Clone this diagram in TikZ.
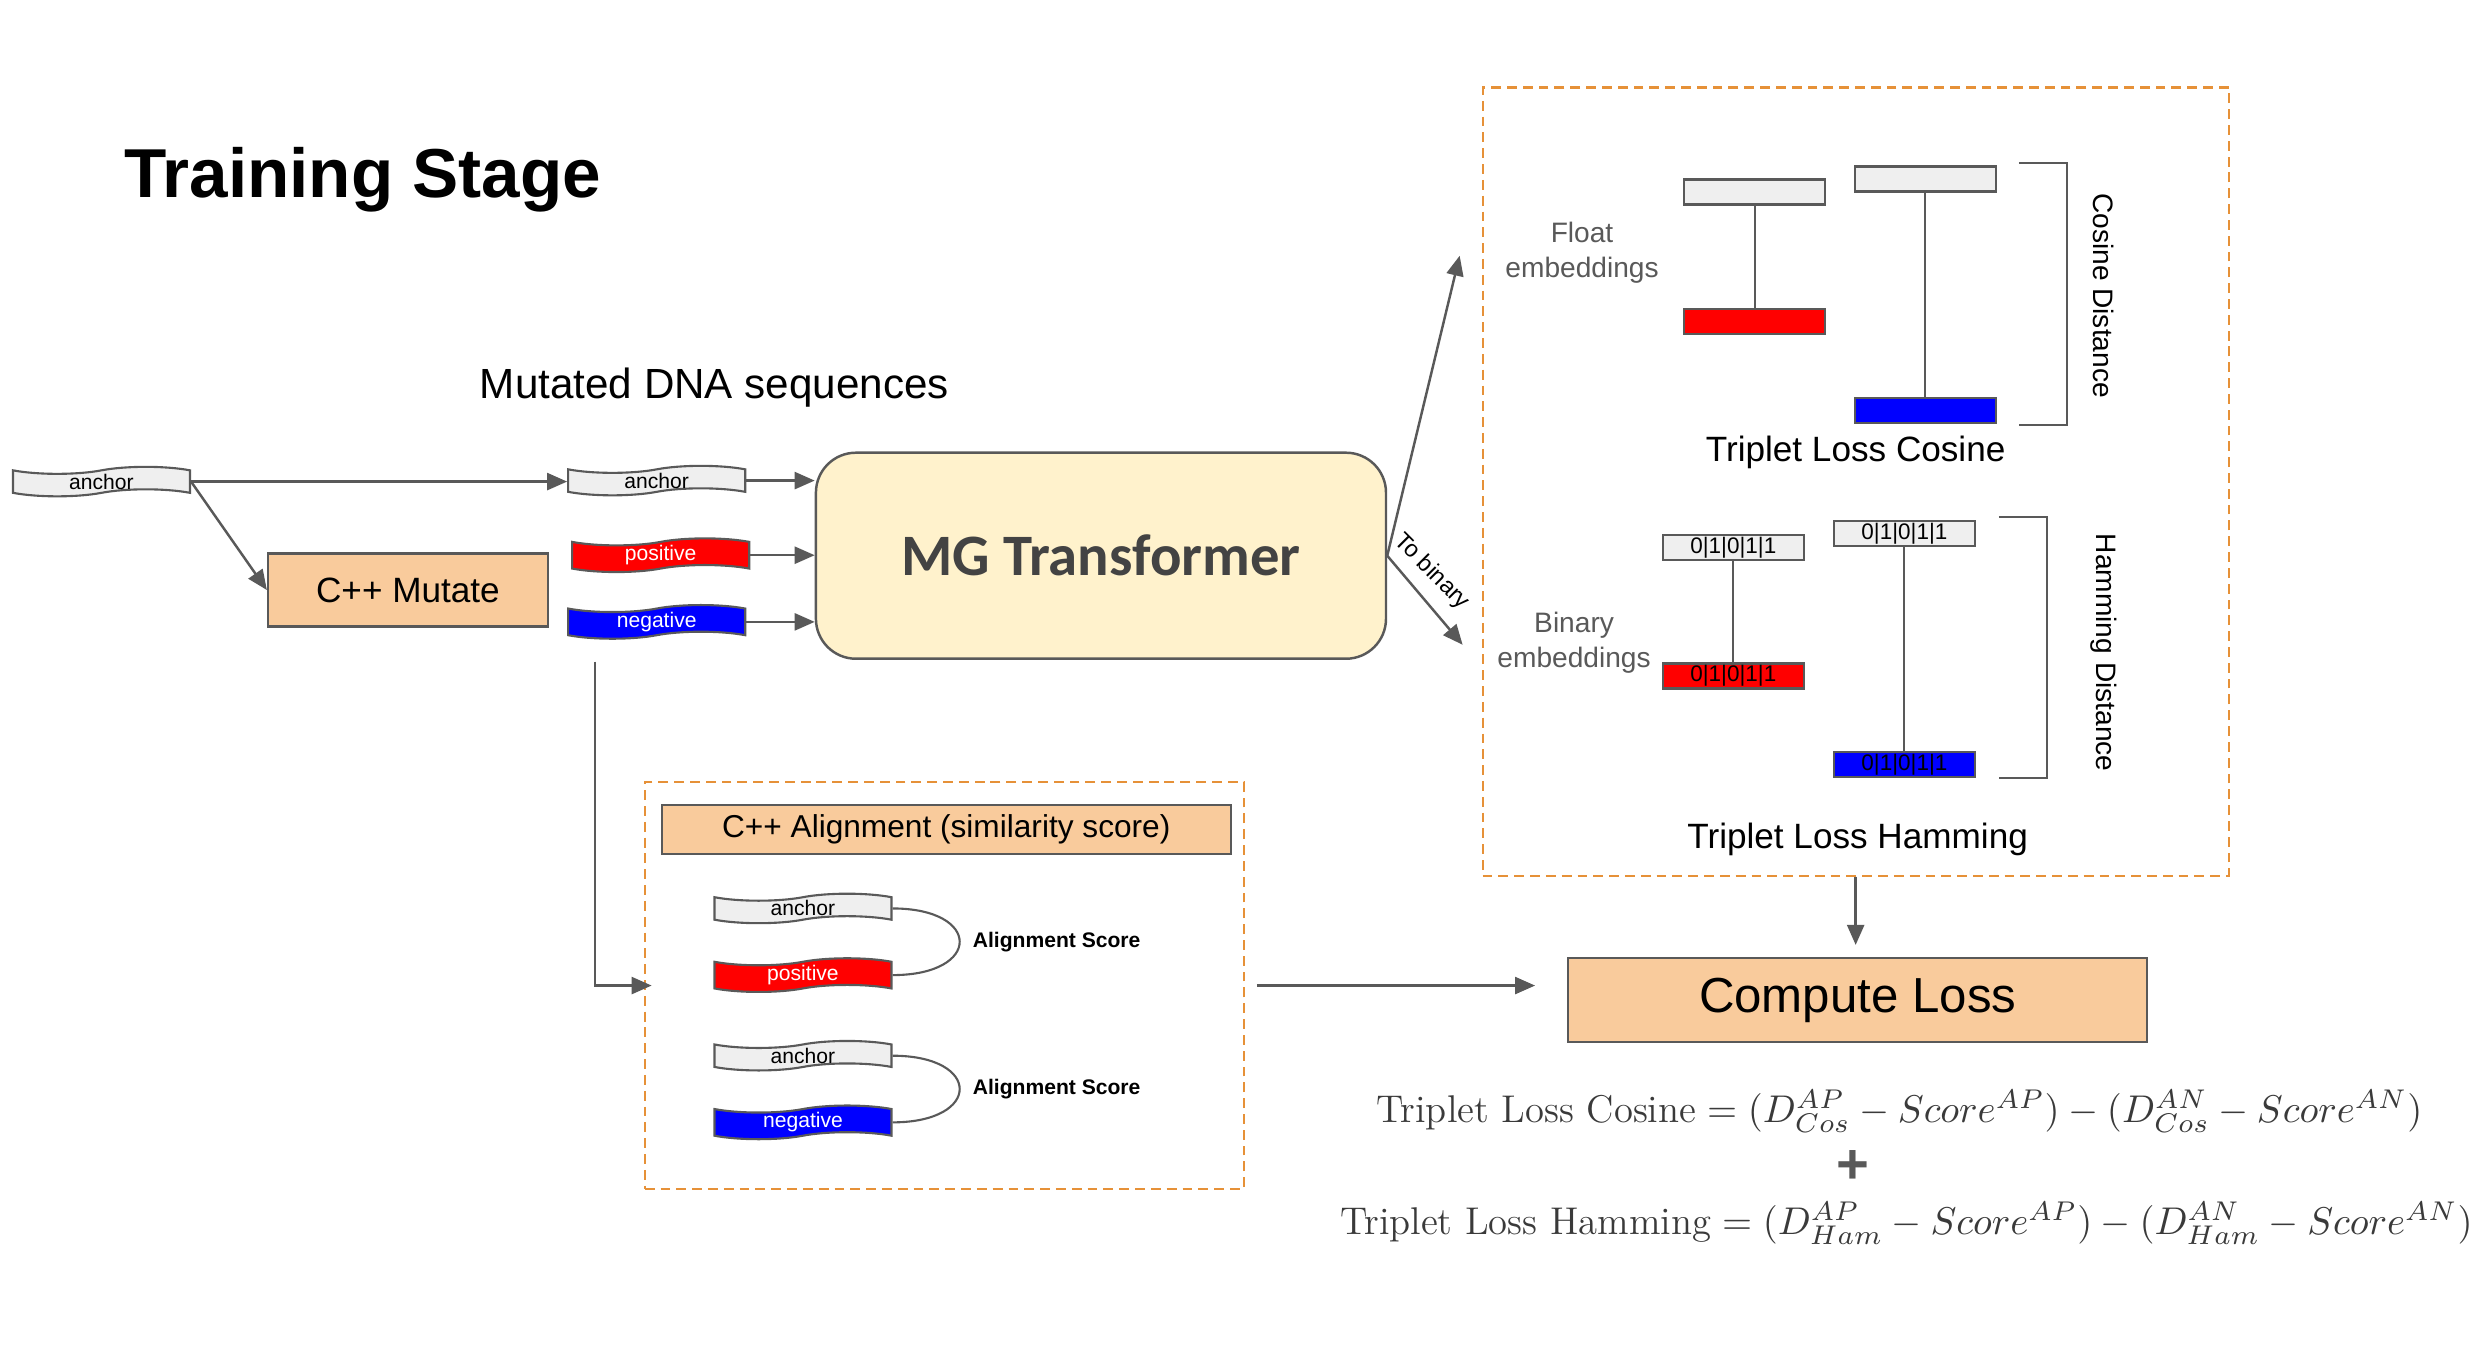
\RequirePackage{fix-cm}
\documentclass[tikz,border=0pt]{standalone}
\usepackage{fontspec}
\setsansfont{Liberation Sans}
\newfontfamily\calibri{Carlito}
\usetikzlibrary{shapes.symbols,arrows.meta,calc}
\definecolor{lg}{HTML}{595959}
\definecolor{og}{HTML}{E69138}
\definecolor{lorange}{HTML}{F9CB9C}
\definecolor{lyellow}{HTML}{FFF2CC}
\definecolor{fgray}{HTML}{EFEFEF}
\definecolor{pred}{HTML}{FF0000}
\definecolor{pblue}{HTML}{0000FF}
\definecolor{mgtext}{HTML}{434343}
\definecolor{formgray}{HTML}{3A3A3A}
\newcommand\fsz[2]{\fontsize{#1}{#2}\selectfont}
\tikzset{
  flag/.style={tape, draw=lg, line width=0.6pt, minimum width=1.77cm, minimum height=0.29cm,
    inner sep=0pt, tape bend height=0.07cm, font=\sffamily\fsz{6}{7}},
  embbox/.style={rectangle, draw=lg, line width=0.65pt, minimum width=1.41cm, minimum height=0.25cm,
    inner sep=0pt, font=\sffamily\fsz{6.4}{7}},
  orbox/.style={rectangle, draw=lg, line width=0.6pt, fill=lorange, inner sep=0pt},
  dbox/.style={rectangle, draw=og, line width=0.6pt, dash pattern=on 2.8pt off 1.7pt, inner sep=0pt},
  arr/.style={draw=lg, line width=0.7pt, -{Triangle[length=0.2cm,width=0.17cm]}},
  conn/.style={draw=lg, line width=0.6pt},
  lbl/.style={inner sep=0pt, font=\sffamily\fsz{10}{12}},
  emblbl/.style={inner sep=0pt, align=center, text=lg, font=\sffamily\fsz{8}{10}},
  distlbl/.style={inner sep=0pt, rotate=-90, font=\sffamily\fsz{8}{10}},
  scorelbl/.style={inner sep=0pt, anchor=west, font=\sffamily\bfseries\fsz{6}{7}},
  formula/.style={inner sep=0pt, text=formgray, font=\rmfamily\fsz{11}{13}}
}
\begin{document}
\begin{tikzpicture}[x=0.00995cm,y=-0.00995cm]
\useasboundingbox (0,0) rectangle (2495.5,1351.8);

% titles
\node[anchor=base west, inner sep=0pt, font=\sffamily\bfseries\fsz{19.7}{24}] (title) at (124,198) {Training Stage};
\node[anchor=base, inner sep=0pt, font=\sffamily\fsz{12}{14}] (mutlbl) at (718,400) {Mutated DNA sequences};

% input sequences
\node[flag, fill=fgray] (a1) at (102,484) {anchor};
\node[flag, fill=fgray] (a2) at (660,483) {anchor};
\node[flag, fill=pred, text=white] (p1) at (664,558) {positive};
\node[flag, fill=pblue, text=white] (n1) at (660,625) {negative};
\node[orbox, minimum width=2.8cm, minimum height=0.73cm, font=\sffamily\fsz{10}{12}] (mutate) at (410,593) {C++ Mutate};
\node[draw=lg, line width=0.7pt, fill=lyellow, rounded corners=0.4cm, minimum width=5.7cm,
  minimum height=2.06cm, text=mgtext, font=\calibri\bfseries\fsz{16.7}{20}] (mg) at (1106.5,558.5) {MG Transformer};

\draw[arr] (a1.east) -- (a1.east -| a2.west);
\draw[arr] (a1.east) -- (mutate.west);
\draw[arr] (a2.east) -- (a2.east -| mg.west);
\draw[arr] (p1.east) -- (p1.east -| mg.west);
\draw[arr] (n1.east) -- (n1.east -| mg.west);

% outputs of transformer
\coordinate (upt) at (1467,257);
\coordinate (dnt) at (1470,648);
\draw[arr] (mg.east) -- (upt);
\draw[arr] (mg.east) -- (dnt);
\node[rotate=-45, inner sep=0pt, font=\sffamily\fsz{6.7}{8}] (tob) at (1439,575) {To binary};

% embeddings box
\node[dbox, minimum width=7.46cm, minimum height=7.88cm] (big) at (1865,484) {};
\node[emblbl] (flt) at (1590,254) {Float\\embeddings};
\node[embbox, fill=fgray] (fa) at (1763.5,193) {};
\node[embbox, fill=pred] (fp) at (1763.5,323) {};
\node[embbox, fill=fgray] (fa2) at (1935,180) {};
\node[embbox, fill=pblue] (fn) at (1935,412.5) {};
\draw[conn] (fa) -- (fp);
\draw[conn] (fa2) -- (fn);
\coordinate (cb1) at (2029,164);
\coordinate (cb2) at (2077,164);
\coordinate (cb3) at (2077,427);
\coordinate (cb4) at (2029,427);
\draw[conn] (cb1) -- (cb2) -- (cb3) -- (cb4);
\node[distlbl] (cosd) at (2114,297) {Cosine Distance};
\node[lbl] (tlc) at (1865,455) {Triplet Loss Cosine};

\node[emblbl] (bin) at (1582,646) {Binary\\embeddings};
\node[embbox, fill=fgray] (ba) at (1742,550) {0|1|0|1|1};
\node[embbox, fill=pred] (bp) at (1742,679.5) {0|1|0|1|1};
\node[embbox, fill=fgray] (ba2) at (1914,536.5) {0|1|0|1|1};
\node[embbox, fill=pblue] (bn) at (1914,768.5) {0|1|0|1|1};
\draw[conn] (ba) -- (bp);
\draw[conn] (ba2) -- (bn);
\coordinate (hb1) at (2009,520);
\coordinate (hb2) at (2057,520);
\coordinate (hb3) at (2057,782);
\coordinate (hb4) at (2009,782);
\draw[conn] (hb1) -- (hb2) -- (hb3) -- (hb4);
\node[distlbl] (hamd) at (2114,656) {Hamming Distance};
\node[lbl] (tlh) at (1867,844) {Triplet Loss Hamming};

% alignment box
\node[dbox, minimum width=5.99cm, minimum height=4.07cm] (align) at (949,990.5) {};
\node[orbox, minimum width=5.69cm, minimum height=0.49cm, font=\sffamily\fsz{9}{11}] (ahdr) at (951,833.5) {C++ Alignment (similarity score)};
\node[flag, fill=fgray] (ia1) at (807,913) {anchor};
\node[flag, fill=pred, text=white] (ip) at (807,980) {positive};
\node[flag, fill=fgray] (ia2) at (807,1061) {anchor};
\node[flag, fill=pblue, text=white] (ineg) at (807,1128) {negative};
\draw[conn] (ia1.east) .. controls +(90,0) and +(90,0) .. (ip.east);
\draw[conn] (ia2.east) .. controls +(90,0) and +(90,0) .. (ineg.east);
\node[scorelbl] (as1) at (977,947) {Alignment Score};
\node[scorelbl] (as2) at (977,1095) {Alignment Score};

\coordinate (vs) at (598,665);
\draw[arr] (vs) |- ($(align.west)+(8,0)$);

% loss
\node[orbox, minimum width=5.79cm, minimum height=0.84cm, font=\sffamily\fsz{14}{17}] (loss) at (1867,1005) {Compute Loss};
\draw[arr, shorten <=0.12cm, shorten >=0.32cm] (align.east) -- (align.east -| loss.west);
\draw[arr, shorten >=0.12cm] (big.south) -- (big.south |- loss.north);

\node[formula] (f1) at (1909,1117) {$\mbox{Triplet Loss Cosine} = (D^{AP}_{Cos} - Score^{AP}) - (D^{AN}_{Cos} - Score^{AN})$};
\node[inner sep=0pt, text=lg, font=\sffamily\bfseries\fsz{16}{18}] (plus) at (1862,1173) {+};
\node[formula] (f2) at (1916,1229) {$\mbox{Triplet Loss Hamming} = (D^{AP}_{Ham} - Score^{AP}) - (D^{AN}_{Ham} - Score^{AN})$};
\end{tikzpicture}
\end{document}
